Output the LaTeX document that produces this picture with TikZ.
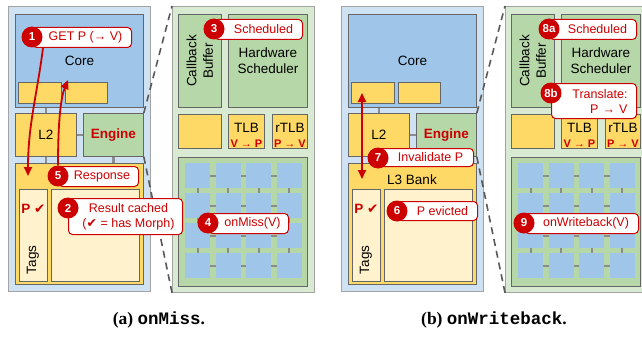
\documentclass[tikz,border=0pt]{standalone}
\usepackage{fontspec}
\setmainfont{Liberation Sans}
\newfontfamily\symfont{DejaVu Sans}
\newfontfamily\capserif{Liberation Serif}
\newfontfamily\capmono{Liberation Mono}
\usetikzlibrary{arrows.meta}

\definecolor{paleblue}{HTML}{CFE2F3}
\definecolor{coreblue}{HTML}{9FC5E8}
\definecolor{cacheyellow}{HTML}{FFD966}
\definecolor{paleyellow}{HTML}{FFF2CC}
\definecolor{engreen}{HTML}{B6D7A8}
\definecolor{palegreen}{HTML}{D9EAD3}
\definecolor{edgegray}{HTML}{666666}
\definecolor{linkgray}{HTML}{8C8C8C}
\definecolor{darkred}{HTML}{CC0000}

\tikzstyle{blk}=[draw=edgegray, line width=0.8pt, inner sep=0pt, anchor=north west, font=\fontsize{13.5}{16.5}\selectfont]
\tikzstyle{cell}=[fill=coreblue, inner sep=0pt, anchor=north west, minimum size=25pt]
\tikzstyle{link}=[draw=linkgray, line width=2.6pt]
\tikzstyle{meshlink}=[draw=linkgray, line width=2.2pt]
\tikzstyle{zoomline}=[draw=black!65, line width=1.6pt, dash pattern=on 7pt off 5pt]
\tikzstyle{flow}=[draw=darkred, line width=1.8pt, -{Triangle[length=9pt,width=8pt]}]
\tikzstyle{txt}=[inner sep=0pt, font=\fontsize{13.5}{16.5}\selectfont]
\tikzstyle{redmark}=[inner sep=0pt, text=darkred, font=\fontsize{13.5}{16}\selectfont\bfseries]
\tikzstyle{calloutbox}=[draw=darkred, fill=white, line width=1pt, rounded corners=4pt, anchor=north west, inner sep=0pt, align=center, text=darkred, font=\fontsize{12.5}{15}\selectfont]
\tikzstyle{numdot}=[circle, fill=darkred, text=white, inner sep=0pt, minimum size=21pt, font=\fontsize{11.5}{12}\selectfont\bfseries]

% callout: [options] name, number, corner, width, height, text
\newcommand{\callout}[7][]{%
  \node[calloutbox, minimum width=#5, minimum height=#6, #1] (#2) at (#4) {#7};
  \node[numdot] (#2-n) at ([yshift=-10pt]#2.north west) {#3};
}

\begin{document}
\begin{tikzpicture}[x=1pt, y=-1pt]
  \useasboundingbox (0,0) rectangle (642,337);

  \foreach \p/\dx in {a/0, b/333} {
    \begin{scope}[xshift=\dx]
      % host side
      \node[blk, fill=paleblue, draw=edgegray!60, minimum width=142, minimum height=285] (\p-host) at (8,6) {};
      \node[blk, fill=coreblue, minimum width=128, minimum height=93] (\p-core) at (15,14) {Core};
      \node[blk, fill=cacheyellow, minimum width=43, minimum height=21] (\p-buf1) at (18,82) {};
      \node[blk, fill=cacheyellow, minimum width=42, minimum height=21] (\p-buf2) at (65,82) {};
      \node[blk, fill=cacheyellow, minimum width=61, minimum height=43] (\p-l2) at (15,113) {L2};
      \node[blk, fill=engreen, minimum width=60, minimum height=43, text=darkred, font=\fontsize{13.5}{16.5}\selectfont\bfseries] (\p-engine) at (83,113) {Engine};
      \node[blk, fill=cacheyellow, minimum width=128, minimum height=121] (\p-l3) at (15,163) {};
      \node[blk, fill=paleyellow, minimum width=28, minimum height=92] (\p-tags) at (19,189) {};
      \node[blk, fill=paleyellow, minimum width=88, minimum height=92] (\p-data) at (51,189) {};
      \node[redmark] (\p-hit) at (33.5,209) {P {\symfont\bfseries ✔}};
      \node[txt, rotate=90] (\p-tagtxt) at (33,260) {Tags};

      \draw[link] (\p-l2.north) -- (\p-l2.north |- \p-core.south);
      \draw[link] (\p-l2.east) -- (\p-engine.west);
      \draw[link] (\p-l2.south) -- (\p-l2.south |- \p-l3.north);
      \draw[link] (\p-engine.south) -- (\p-engine.south |- \p-l3.north);

      % engine side
      \node[blk, fill=palegreen, draw=edgegray!60, minimum width=142, minimum height=286] (\p-accel) at (172,6) {};
      \node[blk, fill=engreen, minimum width=43, minimum height=93] (\p-cbuf) at (178,14) {};
      \node[txt, rotate=90, align=center] (\p-cbuftxt) at (\p-cbuf.center) {Callback\\Buffer};
      \node[blk, fill=engreen, minimum width=79, minimum height=93, align=center] (\p-sched) at (228,14) {Hardware\\Scheduler};
      \node[blk, fill=cacheyellow, minimum width=43, minimum height=34] (\p-spare) at (178,114) {};
      \node[blk, fill=cacheyellow, minimum width=36, minimum height=34] (\p-tlb) at (228,114) {};
      \node[blk, fill=cacheyellow, minimum width=35, minimum height=34] (\p-rtlb) at (272,114) {};
      \node[txt] (\p-tlbtxt) at ([yshift=-14pt]\p-tlb.north) {TLB};
      \node[redmark, font=\fontsize{11}{12}\selectfont\bfseries] (\p-tlbmap) at ([yshift=5.5pt]\p-tlb.south) {V → P};
      \node[txt] (\p-rtlbtxt) at ([yshift=-14pt]\p-rtlb.north) {rTLB};
      \node[redmark, font=\fontsize{11}{12}\selectfont\bfseries] (\p-rtlbmap) at ([yshift=5.5pt]\p-rtlb.south) {P → V};
      \node[blk, fill=engreen, minimum width=129, minimum height=129] (\p-grid) at (178,157) {};
      \foreach \i in {0,...,3}
        \foreach \j in {0,...,3}
          \node[cell] (\p-sq-\i-\j) at (185+30.5*\i, 163+30*\j) {};
      \foreach \i [evaluate=\i as \k using int(\i+1)] in {0,1,2}
        \foreach \j in {0,...,3} {
          \draw[meshlink] (\p-sq-\i-\j.east) -- (\p-sq-\k-\j.west);
          \draw[meshlink] (\p-sq-\j-\i.south) -- (\p-sq-\j-\k.north);
        }

      \draw[zoomline] (\p-engine.north east) -- (\p-accel.north west);
      \draw[zoomline] (\p-engine.south east) -- (\p-accel.south west);
    \end{scope}
  }

  % (a) onMiss
  \callout{a-c1}{1}{32,27}{99}{20}{\hspace*{7pt}GET P (→ V)}
  \callout{a-c5}{5}{58,166}{80}{20}{\hspace*{7pt}Response}
  \callout{a-c2}{2}{68,198}{114}{36}{\hspace*{6pt}Result cached\\\hspace*{6pt}({\symfont ✔} = has Morph)}
  \callout{a-c4}{4}{208,213}{80}{20}{\hspace*{8pt}onMiss(V)}
  \callout{a-c3}{3}{214,19}{88}{20}{\hspace*{10pt}Scheduled}
  \coordinate (a-probe) at (28,176);
  \coordinate (a-fill) at (68,80);
  \draw[flow] ([xshift=11pt]a-c1.south west) .. controls (37,95) and (28,125) .. (a-probe);
  \draw[flow] (a-c5-n.north) .. controls (58,120) and (61,97) .. (a-fill);

  % (b) onWriteback
  \node[txt] (b-l3txt) at (412,180) {L3 Bank};
  \coordinate (b-fill) at (362,93);
  \coordinate (b-probe) at (362,179);
  \draw[flow, {Triangle[length=9pt,width=8pt]}-{Triangle[length=9pt,width=8pt]}] (b-fill) -- (b-probe);
  \callout{b-c7}{7}{378,148}{95}{18}{\hspace*{9pt}Invalidate P}
  \callout{b-c6}{6}{397,201}{80}{19}{\hspace*{10pt}P evicted}
  \callout{b-c8a}{8a}{549,19}{87}{20}{\hspace*{9pt}Scheduled}
  \callout[text width=67pt, inner xsep=9pt, align=right]{b-c8b}{8b}{551,83}{85}{35}{Translate:\\P → V}
  \callout{b-c9}{9}{524,213}{114}{20}{\hspace*{9pt}onWriteback(V)}

  % captions
  \node[inner sep=0pt, font=\fontsize{17.5}{20}\selectfont] (a-cap) at (159,320) {\capserif\bfseries (a) \capmono\bfseries onMiss\capserif.};
  \node[inner sep=0pt, font=\fontsize{17.5}{20}\selectfont] (b-cap) at (494,320) {\capserif\bfseries (b) \capmono\bfseries onWriteback\capserif.};
\end{tikzpicture}
\end{document}
